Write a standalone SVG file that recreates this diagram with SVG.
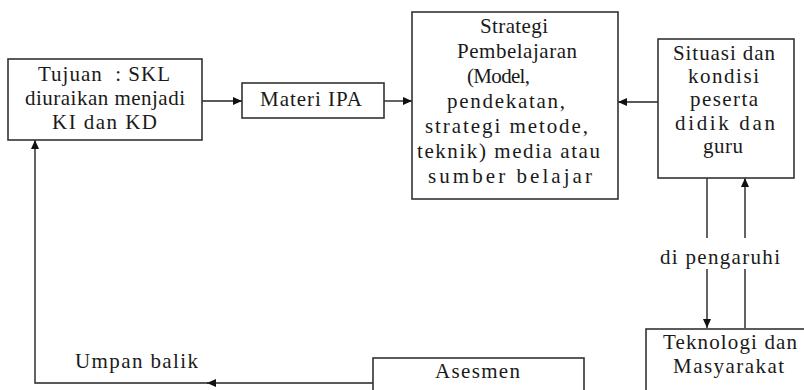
<svg xmlns="http://www.w3.org/2000/svg" width="804" height="390" viewBox="0 0 804 390" font-family="Liberation Serif" font-size="21">
<style>
.box{fill:#fff;stroke:#333;stroke-width:1.6}
.c{fill:none;stroke:#222;stroke-width:1.4}
</style>
<defs>
<marker id="ah" markerWidth="10" markerHeight="10" refX="9" refY="4" orient="auto" markerUnits="userSpaceOnUse">
<path d="M0,0 L9,4 L0,8 Z" fill="#111"/>
</marker>
</defs>
<rect width="804" height="390" fill="#fff"/>
<g id="connectors">
<path class="c" d="M202,101 H242" marker-end="url(#ah)"/>
<path class="c" d="M384,101 H412" marker-end="url(#ah)"/>
<path class="c" d="M658,102 H618" marker-end="url(#ah)"/>
<path class="c" d="M707,178 V238"/>
<path class="c" d="M707,269 V328" marker-end="url(#ah)"/>
<path class="c" d="M745,328 V269"/>
<path class="c" d="M745,238 V178" marker-end="url(#ah)"/>
<path class="c" d="M373,383 H207" marker-end="url(#ah)"/>
<path class="c" d="M208,383 H35 V140" marker-end="url(#ah)"/>
<text x="660" y="264" fill="#1a1a1a" textLength="120">di pengaruhi</text>
<text x="75" y="368" fill="#1a1a1a" textLength="123">Umpan balik</text>
</g>
<g id="tujuan" fill="#1a1a1a">
<rect class="box" x="8" y="59" width="194" height="81"/>
<text x="38" y="81" textLength="132" xml:space="preserve">Tujuan  : SKL</text>
<text x="25" y="105" textLength="160">diuraikan menjadi</text>
<text x="52" y="129" textLength="105">KI dan KD</text>
</g>
<g id="materi" fill="#1a1a1a">
<rect class="box" x="242" y="83" width="142" height="35"/>
<text x="260" y="106" textLength="102">Materi IPA</text>
</g>
<g id="strategi" fill="#1a1a1a">
<rect class="box" x="412" y="12" width="206" height="187"/>
<text x="480" y="33" textLength="68">Strategi</text>
<text x="457" y="58" textLength="120">Pembelajaran</text>
<text x="467" y="83" textLength="63">(Model,</text>
<text x="447" y="108" textLength="118">pendekatan,</text>
<text x="425" y="133" textLength="163">strategi metode,</text>
<text x="417" y="158" textLength="183">teknik) media atau</text>
<text x="428" y="183" textLength="164">sumber belajar</text>
</g>
<g id="situasi" fill="#1a1a1a">
<rect class="box" x="658" y="39" width="136" height="139"/>
<text x="673" y="60" textLength="102">Situasi dan</text>
<text x="688" y="83" textLength="71">kondisi</text>
<text x="690" y="106" textLength="68">peserta</text>
<text x="675" y="130" textLength="100">didik dan</text>
<text x="703" y="153" textLength="40">guru</text>
</g>
<g id="teknologi" fill="#1a1a1a">
<rect class="box" x="646" y="329" width="170" height="80"/>
<text x="663" y="349" textLength="134">Teknologi dan</text>
<text x="673" y="373" textLength="111">Masyarakat</text>
</g>
<g id="asesmen" fill="#1a1a1a">
<rect class="box" x="373" y="358" width="211" height="50"/>
<text x="435" y="378" textLength="85">Asesmen</text>
</g>
</svg>
